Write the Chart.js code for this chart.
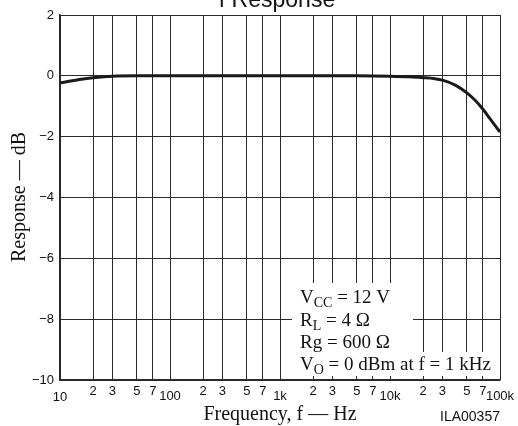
<!DOCTYPE html>
<html>
<head>
<meta charset="utf-8">
<script src="https://cdn.jsdelivr.net/npm/chart.js@4.4.0/dist/chart.umd.min.js"></script>
<style>
  body { margin: 0; background: #fff; }
  canvas { display: block; }
</style>
</head>
<body>
<canvas id="myChart" width="518" height="426"></canvas>
<script>
'use strict';

// curve (Hz, dB)
let freqs = [10, 15, 20, 30, 50, 100, 1000, 5000, 10000, 15000, 20000, 25000, 30000, 40000, 50000, 60000, 70000, 80000, 100000];
let gains = [-0.23, -0.12, -0.06, -0.01, 0, 0, 0, 0, -0.01, -0.03, -0.06, -0.09, -0.14, -0.32, -0.56, -0.82, -1.1, -1.38, -1.85];

let gridFreqs = [10, 20, 30, 50, 70, 100, 200, 300, 500, 700, 1000, 2000, 3000, 5000, 7000, 10000, 20000, 30000, 50000, 70000, 100000];
let freqLabels = ['10', '2', '3', '5', '7', '100', '2', '3', '5', '7', '1k', '2', '3', '5', '7', '10k', '2', '3', '5', '7', '100k'];
let dbTicks = [2, 0, -2, -4, -6, -8, -10];
let dbLabels = ['2', '0', '\u22122', '\u22124', '\u22126', '\u22128', '\u221210'];

let titleText = 'f Response';
let xTitle = 'Frequency, f \u2014 Hz';
let yTitle = 'Response \u2014 dB';
let figCode = 'ILA00357';
// each note line: [main, subscript, rest]
let notes = [
  ['V', 'CC', ' = 12 V'],
  ['R', 'L', ' = 4 \u03a9'],
  ['Rg = 600 \u03a9', '', ''],
  ['V', 'O', ' = 0 dBm at f = 1 kHz']
];

let points = [];
for (let i = 0; i < freqs.length; i++) {
  points.push({ x: freqs[i], y: gains[i] });
}

const sans = '"Liberation Sans", Arial, sans-serif';
const serif = '"Liberation Serif", "Times New Roman", serif';

let textPlugin = {
  id: 'textPlugin',
  afterDraw(chart) {
    let ctx = chart.ctx;
    let xs = chart.scales.x;
    let ys = chart.scales.y;
    ctx.save();

    // white boxes behind the notes
    ctx.fillStyle = '#fff';
    ctx.fillRect(292, 283, 121, 69);
    ctx.fillRect(292, 352, 207, 24);

    ctx.fillStyle = '#111';
    ctx.textBaseline = 'alphabetic';
    ctx.textAlign = 'left';
    let base = [303, 326, 348, 370];
    for (let i = 0; i < notes.length; i++) {
      let x = 300;
      ctx.font = '19px ' + serif;
      ctx.fillText(notes[i][0], x, base[i]);
      x += ctx.measureText(notes[i][0]).width;
      if (notes[i][1]) {
        ctx.font = '14px ' + serif;
        ctx.fillText(notes[i][1], x, base[i] + 4);
        x += ctx.measureText(notes[i][1]).width;
      }
      ctx.font = '19px ' + serif;
      ctx.fillText(notes[i][2], x, base[i]);
    }

    // x tick labels
    ctx.font = '13px ' + sans;
    ctx.textAlign = 'center';
    ctx.textBaseline = 'middle';
    for (let i = 0; i < gridFreqs.length; i++) {
      let decade = i % 5 === 0;
      let px = xs.getPixelForValue(gridFreqs[i]);
      ctx.fillText(freqLabels[i], px, decade ? (i === 0 ? 397 : 396) : 391);
    }

    // y tick labels
    ctx.textAlign = 'right';
    for (let i = 0; i < dbTicks.length; i++) {
      ctx.fillText(dbLabels[i], 54, ys.getPixelForValue(dbTicks[i]));
    }

    // titles
    ctx.textAlign = 'center';
    ctx.textBaseline = 'alphabetic';
    ctx.font = '20px ' + serif;
    ctx.fillText(xTitle, 280, 420);

    ctx.save();
    ctx.translate(25, 197);
    ctx.rotate(-Math.PI / 2);
    ctx.fillText(yTitle, 0, 0);
    ctx.restore();

    ctx.font = '14px ' + sans;
    ctx.fillText(figCode, 470, 421);

    ctx.font = '23px ' + sans;
    ctx.fillText(titleText, 277, 7);

    ctx.restore();
  }
};

let ctx = document.getElementById('myChart').getContext('2d');
let myChart = new Chart(ctx, {
  type: 'line',
  data: {
    datasets: [{
      data: points,
      borderColor: '#1a1a1a',
      borderWidth: 3,
      pointRadius: 0,
      cubicInterpolationMode: 'monotone',
      fill: false
    }]
  },
  options: {
    responsive: false,
    animation: false,
    devicePixelRatio: 1,
    layout: { padding: { left: 60, right: 18, top: 15, bottom: 46 } },
    plugins: {
      legend: { display: false },
      tooltip: { enabled: false }
    },
    scales: {
      x: {
        type: 'logarithmic',
        min: 10,
        max: 100000,
        afterBuildTicks: function (scale) {
          scale.ticks = gridFreqs.map(function (v) { return { value: v }; });
        },
        ticks: { display: false },
        grid: { color: '#2a2a2a', lineWidth: 1, drawTicks: false },
        border: { color: '#2a2a2a', width: 1.5 }
      },
      y: {
        type: 'linear',
        min: -10,
        max: 2,
        ticks: { display: false, stepSize: 2 },
        grid: { color: '#2a2a2a', lineWidth: 1, drawTicks: false },
        border: { color: '#2a2a2a', width: 1.5 }
      }
    }
  },
  plugins: [textPlugin]
});
</script>
</body>
</html>
